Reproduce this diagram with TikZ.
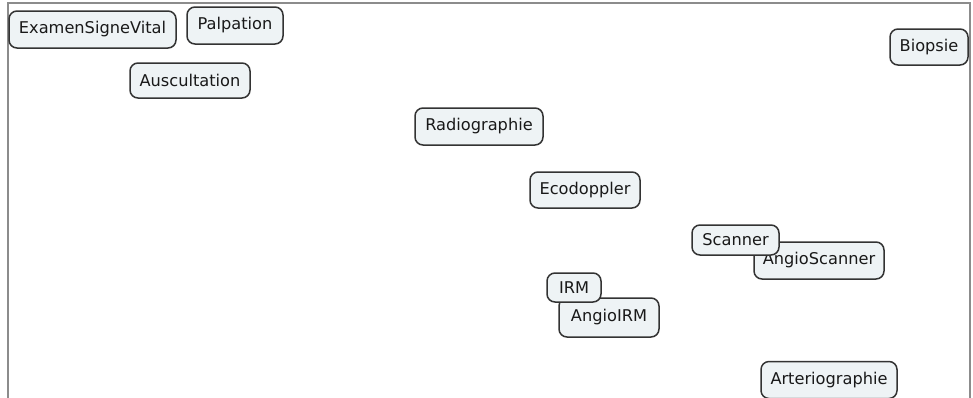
\documentclass[tikz,border=0pt]{standalone}
\usepackage{fontspec}
\setmainfont{DejaVu Sans}
\definecolor{boxfill}{HTML}{EEF3F5}
\definecolor{boxline}{HTML}{333333}
\definecolor{frameline}{HTML}{8C8C8C}
\begin{document}
\begin{tikzpicture}[x=1pt,y=-1pt,
  concept/.style={draw=boxline,fill=boxfill,line width=1.5pt,rounded corners=8pt,
    inner sep=0pt,align=center,font=\fontsize{16.2}{19}\selectfont,text=black!90}]
\useasboundingbox (0,0) rectangle (973,397);
\draw[frameline,line width=2pt] (8,400) -- (8,3) -- (970,3) -- (970,400);
\node[concept,minimum width=167pt,minimum height=37pt] (esv) at (92.5,29.5) {ExamenSigneVital};
\node[concept,minimum width=96pt,minimum height=37pt] (palp) at (235,25.5) {Palpation};
\node[concept,minimum width=120pt,minimum height=35pt] (ausc) at (190,80.5) {Auscultation};
\node[concept,minimum width=128pt,minimum height=37pt] (radio) at (479,126.5) {Radiographie};
\node[concept,minimum width=110pt,minimum height=36pt] (eco) at (585,190) {Ecodoppler};
\node[concept,minimum width=130pt,minimum height=37pt] (angsc) at (819,260.5) {AngioScanner};
\node[concept,minimum width=87pt,minimum height=30pt] (scan) at (735.5,240) {Scanner};
\node[concept,minimum width=100pt,minimum height=39pt] (angirm) at (609,317.5) {AngioIRM};
\node[concept,minimum width=54pt,minimum height=29pt] (irm) at (574,287.5) {IRM};
\node[concept,minimum width=136pt,minimum height=37pt] (arte) at (829,380) {Arteriographie};
\node[concept,minimum width=78pt,minimum height=36pt] (bio) at (929,47) {Biopsie};
\end{tikzpicture}
\end{document}
